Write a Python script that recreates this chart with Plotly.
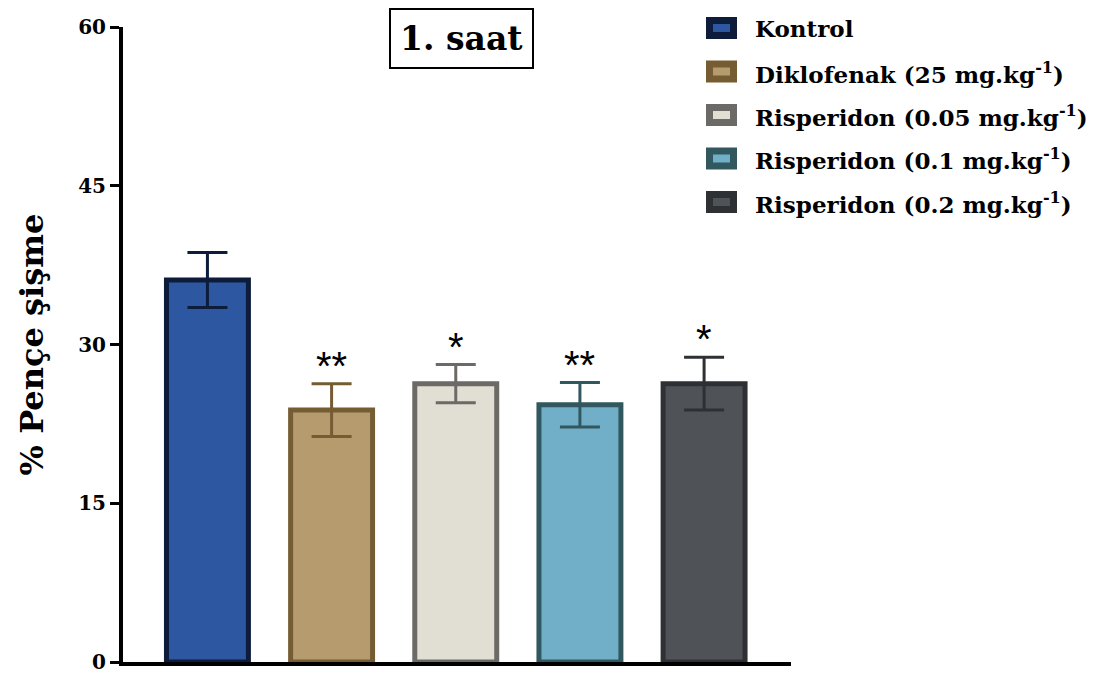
import plotly.graph_objects as go

# Group labels, mean paw swelling (%) and SEM at hour 1
groups = [
    "Kontrol",
    "Diklofenak (25 mg.kg<sup>-1</sup>)",
    "Risperidon (0.05 mg.kg<sup>-1</sup>)",
    "Risperidon (0.1 mg.kg<sup>-1</sup>)",
    "Risperidon (0.2 mg.kg<sup>-1</sup>)",
]
mean_swelling = [36.1, 23.8, 26.3, 24.3, 26.3]
sem_swelling = [2.6, 2.5, 1.8, 2.1, 2.5]
significance = ["", "**", "*", "**", "*"]
y_ticks = [0, 15, 30, 45, 60]

fill_colors = ["#2e57a1", "#b59b6e", "#e1ded3", "#71afc9", "#4f5256"]
edge_colors = ["#0c1c3a", "#765c33", "#6c6a66", "#32585f", "#2e3134"]

SERIF = "DejaVu Serif, Times New Roman, serif"

# plot-area geometry in pixels (used to place the key in paper units)
W, H = 1105, 675
ML, MR, MT, MB = 123, 314, 27, 13
PW, PH = W - ML - MR, H - MT - MB


def px_x(px):
    return (px - ML) / PW


def px_y(py):
    return 1 - (py - MT) / PH


fig = go.Figure()
for i, name in enumerate(groups):
    fig.add_trace(go.Bar(
        x=[i],
        y=[mean_swelling[i]],
        name=name,
        width=0.66,
        showlegend=False,
        marker=dict(color=fill_colors[i], line=dict(color=edge_colors[i], width=5)),
        error_y=dict(type="data", array=[sem_swelling[i]], visible=True,
                     color=edge_colors[i], thickness=3, width=20),
    ))
    if significance[i]:
        fig.add_annotation(
            x=i, y=mean_swelling[i] + sem_swelling[i],
            text=significance[i], showarrow=False,
            yanchor="bottom", yshift=-6,
            font=dict(family="Liberation Sans, Arial, sans-serif", size=40, color="black"),
        )

# key: framed swatch + label for each group
key_top, key_step = 28, 43.5
for i, name in enumerate(groups):
    yc = key_top + i * key_step
    fig.add_shape(
        type="rect", xref="paper", yref="paper",
        x0=px_x(709.5), x1=px_x(733.5), y0=px_y(yc - 7.5), y1=px_y(yc + 7.5),
        fillcolor=fill_colors[i], line=dict(color=edge_colors[i], width=7),
    )
    fig.add_annotation(
        xref="paper", yref="paper", x=px_x(753), y=px_y(yc + 1),
        text=f"<b>{name}</b>", showarrow=False,
        xanchor="left", yanchor="middle",
        font=dict(family=SERIF, size=23, color="black"),
    )

fig.add_annotation(
    xref="paper", yref="paper", x=px_x(461), y=px_y(38),
    text="<b>1. saat</b>", showarrow=False,
    xanchor="center", yanchor="middle",
    font=dict(family=SERIF, size=33, color="black"),
    bordercolor="black", borderwidth=2, borderpad=9, bgcolor="white",
)

fig.update_layout(
    width=W, height=H,
    margin=dict(l=ML, r=MR, t=MT, b=MB, autoexpand=False),
    paper_bgcolor="white", plot_bgcolor="white",
    barmode="overlay",
    showlegend=False,
    font=dict(family=SERIF, color="black"),
)

fig.update_xaxes(
    range=[-0.68, 4.70], showticklabels=False, ticks="",
    showline=True, linecolor="black", linewidth=4, showgrid=False, zeroline=False,
)
fig.update_yaxes(
    range=[0, 60], tickvals=y_ticks, ticktext=[f"<b>{v}</b>" for v in y_ticks],
    ticks="outside", ticklen=9, tickwidth=3, tickcolor="black",
    showline=True, linecolor="black", linewidth=4, showgrid=False, zeroline=False,
    tickfont=dict(family=SERIF, size=20, color="black"),
    title=dict(text="<b>% Pençe şişme</b>", font=dict(family=SERIF, size=32, color="black"), standoff=26),
)

fig.write_html("out.html")
